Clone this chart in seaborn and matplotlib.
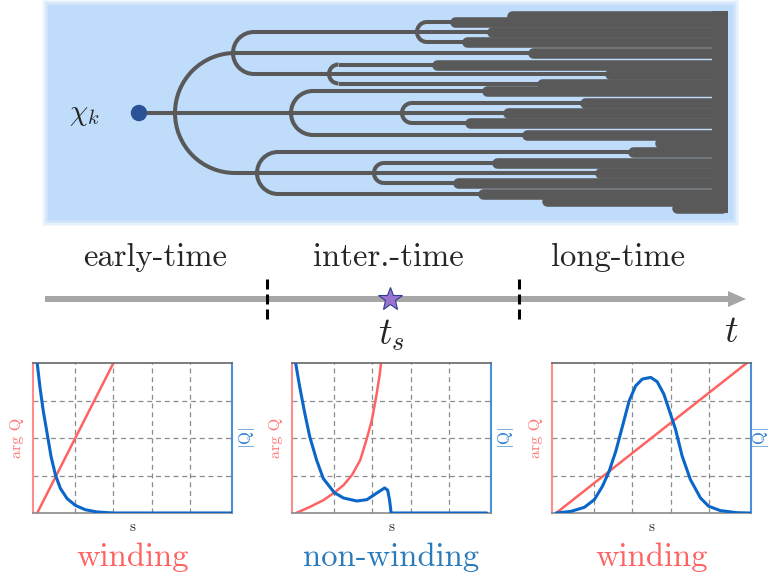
import matplotlib
matplotlib.use("Agg")
import matplotlib.pyplot as plt
from matplotlib.patches import Arc, Circle, Rectangle, Polygon
import seaborn as sns

sns.set_theme(style="white")
plt.rcParams["font.family"] = ["cmr10", "DejaVu Serif"]
plt.rcParams["mathtext.fontset"] = "cm"
plt.rcParams["axes.unicode_minus"] = False

# ---------------- data -------------------------------------------------------
# tree nodes: left edge x, centre y, radius (pixel coords of the top panel)
node_x = [175, 233, 291, 257, 417, 329, 402, 374]
node_y = [113, 53, 113, 173, 32, 74, 113, 173]
node_r = [60, 21, 22, 21, 10, 9.5, 10, 10]

# branches: height, x where the thin line starts, x where it turns thick
branch_y = [113, 53, 173, 32, 22, 42, 74, 64.5, 83.5, 91, 135, 103, 123,
            152, 194, 163, 183, 16, 143, 201, 208]
branch_start = [139, 235, 235, 254, 427, 427, 254, 338.5, 338.5, 313, 313,
                412, 412, 278, 278, 384, 384, 512, 660, 547, 677]
branch_thick = [508, 533, 600, 492, 455, 467, 610, 437, 542, 487, 527, 585,
                470, 633, 483, 497, 458, 512, 660, 547, 677]

regime_labels = ["early-time", "inter.-time", "long-time"]
panel_titles = ["winding", "non-winding", "winding"]

# panel 1
p1_arg_x = [0.0, 0.4]
p1_arg_y = [0.0, 1.0]
p1_abs_x = [0.0, 0.014, 0.031, 0.052, 0.073, 0.096, 0.122, 0.157, 0.2, 0.252,
            0.313, 0.4, 1.02]
p1_abs_y = [1.0, 0.844, 0.6875, 0.531, 0.375, 0.252, 0.163, 0.096, 0.051,
            0.022, 0.007, 0.0, 0.0]
# panel 2
p2_arg_x = [0.0, 0.071, 0.142, 0.2, 0.248, 0.292, 0.336, 0.371, 0.397, 0.42,
            0.438, 0.445]
p2_arg_y = [0.0, 0.04, 0.085, 0.136, 0.185, 0.252, 0.353, 0.498, 0.62, 0.777,
            0.922, 1.0]
p2_abs_x = [-0.003, 0.018, 0.045, 0.071, 0.107, 0.142, 0.2, 0.248, 0.318,
            0.371, 0.424, 0.464, 0.48, 0.49, 0.498, 1.0]
p2_abs_y = [1.0, 0.844, 0.665, 0.509, 0.353, 0.23, 0.136, 0.1, 0.08, 0.089,
            0.134, 0.167, 0.152, 0.085, 0.0, 0.0]
# panel 3
p3_arg_x = [0.0, 1.0]
p3_arg_y = [0.0, 1.0]
p3_abs_x = [0.0, 0.078, 0.148, 0.2, 0.243, 0.278, 0.313, 0.348, 0.383, 0.417,
            0.452, 0.496, 0.53, 0.565, 0.6, 0.626, 0.661, 0.704, 0.757, 0.8,
            0.861, 0.948, 1.017]
p3_abs_y = [0.0, 0.011, 0.038, 0.089, 0.179, 0.279, 0.413, 0.58, 0.748, 0.848,
            0.893, 0.904, 0.875, 0.792, 0.658, 0.558, 0.379, 0.223, 0.1, 0.045,
            0.016, 0.002, 0.0]

panels = [(p1_arg_x, p1_arg_y, p1_abs_x, p1_abs_y),
          (p2_arg_x, p2_arg_y, p2_abs_x, p2_abs_y),
          (p3_arg_x, p3_arg_y, p3_abs_x, p3_abs_y)]

# ---------------- colours ----------------------------------------------------
bg_blue = "#bfdcfb"
tree_grey = "#595959"
red = "#ff6262"
blue = "#0a66c8"

W, H = 770, 573
fig = plt.figure(figsize=(W / 100, H / 100), dpi=100)
canvas = fig.add_axes([0, 0, 1, 1])
canvas.set_xlim(0, W)
canvas.set_ylim(H, 0)
canvas.axis("off")

# top panel background, soft edges
for pad, a in [(6, 0.2), (4.5, 0.25), (3, 0.3), (1.5, 0.4), (0, 1.0)]:
    canvas.add_patch(Rectangle((48 - pad, 5 - pad), 685 + 2 * pad, 215 + 2 * pad,
                               color=bg_blue, alpha=a, lw=0, zorder=1))

thin = 2.9
thick = 7.6
for x0, y0, r in zip(node_x, node_y, node_r):
    canvas.add_patch(Arc((x0 + r, y0), 2 * r, 2 * r, theta1=90, theta2=270,
                         color=tree_grey, lw=thin, zorder=3))
for y0, xs, xt in zip(branch_y, branch_start, branch_thick):
    if xt > xs:
        canvas.plot([xs, xt], [y0, y0], color=tree_grey, lw=thin, zorder=3,
                    solid_capstyle="butt")
    canvas.plot([xt, 722], [y0, y0], color=tree_grey, lw=thick, zorder=4,
                solid_capstyle="round")
canvas.add_patch(Rectangle((712, 11), 16, 202, color=tree_grey, lw=0, zorder=4))
canvas.add_patch(Circle((139, 113), 7.5, color="#2b5196", zorder=5))
canvas.text(84, 115, r"$\chi_k$", fontsize=21, ha="center", va="center", zorder=5)

# time axis
canvas.plot([45, 732], [299, 299], color="#a6a6a6", lw=4.3, solid_capstyle="butt")
canvas.add_patch(Polygon([(728, 291), (746, 299), (728, 307)], color="#a6a6a6", lw=0))
for xd in [267, 519]:
    canvas.plot([xd, xd], [279, 319], color="black", lw=2.2,
                linestyle=(0, (3.27, 1.64)), solid_capstyle="butt")
canvas.plot([390], [299], marker="*", markersize=18, markerfacecolor="#9b72cf",
            markeredgecolor="#2f3f8f", markeredgewidth=0.8, zorder=6)
for lab, xc in zip(regime_labels, [155, 388, 618]):
    canvas.text(xc, 257, lab, fontsize=23.5, ha="center", va="center")
canvas.text(391, 335, r"$t_s$", fontsize=27, ha="center", va="center")
canvas.text(731, 332, r"$t$", fontsize=27, ha="center", va="center")

# bottom panels
lefts = [33, 292, 552]
title_cols = [red, "#2b7bba", red]
for i, (ax_x, ax_y, bx, by) in enumerate(panels):
    l = lefts[i]
    ax = fig.add_axes([l / W, (H - 513) / H, 199 / W, 150 / H])
    sns.lineplot(x=bx, y=by, ax=ax, color=blue, lw=2.2, estimator=None, sort=False, zorder=3)
    sns.lineplot(x=ax_x, y=ax_y, ax=ax, color=red, lw=1.8, estimator=None, sort=False, zorder=2)
    ax.set_xlim(-0.022, 1.022)
    ax.set_ylim(0, 1)
    ax.set_xticks([0.2, 0.4, 0.6, 0.8])
    ax.set_yticks([0.25, 0.5, 0.75])
    ax.tick_params(length=0, labelbottom=False, labelleft=False)
    ax.grid(True, linestyle=(0, (4, 3)), color="#8c8c8c", lw=0.9)
    ax.set_xlabel("")
    ax.set_ylabel("")
    ax.spines["top"].set_color("#666666")
    ax.spines["bottom"].set_color("#8a8a8a")
    for side in ["top", "bottom"]:
        ax.spines[side].set_linewidth(1.2)
    ax.spines["left"].set_color("#ff8c8c")
    ax.spines["left"].set_linewidth(1.5)
    ax.spines["right"].set_color("#4d8fd6")
    ax.spines["right"].set_linewidth(1.5)
    cx = l + 99.5
    canvas.text(l - 16, 438, "arg Q", rotation=90, color="#ff7272", fontsize=11.5,
                ha="center", va="center")
    canvas.text(min(l + 214, 761), 438, r"$|\mathrm{Q}|$", rotation=90,
                color="#2f7fd3", fontsize=12, ha="center", va="center")
    canvas.text(cx, 527, "s", fontsize=11, ha="center", va="center")
    canvas.text(cx, 557, panel_titles[i], color=title_cols[i], fontsize=23.5,
                ha="center", va="center")

fig.savefig("out.png", dpi=100)
